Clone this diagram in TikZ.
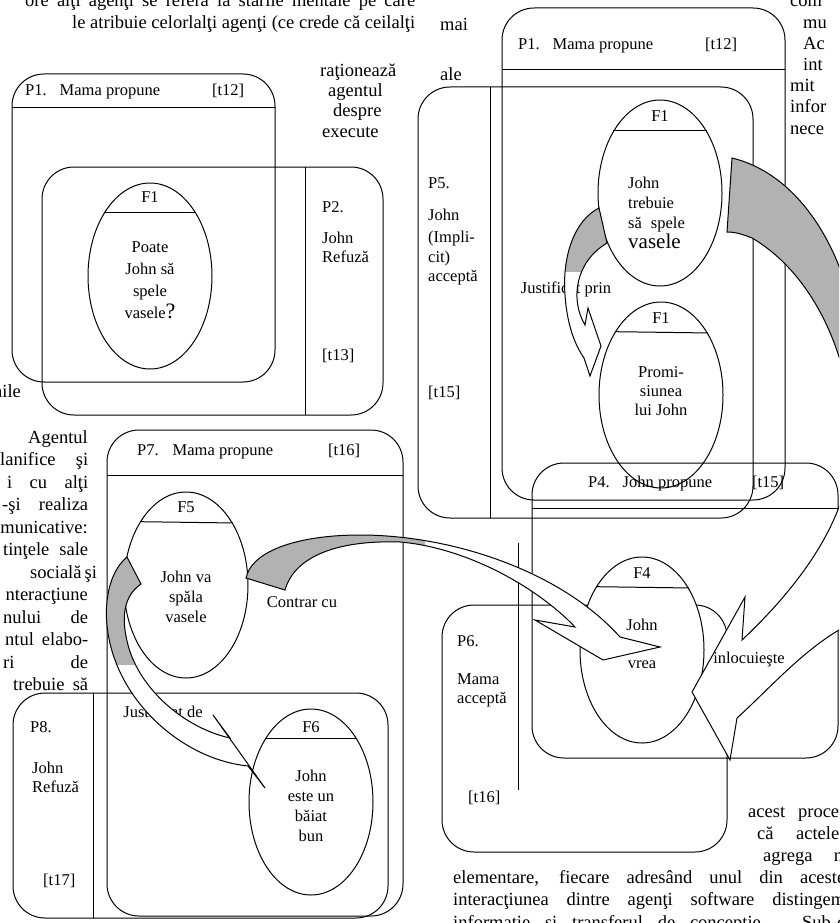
\documentclass[tikz,border=0pt]{standalone}
\usepackage{fontspec}
\setmainfont{Liberation Serif}
\usetikzlibrary{shapes.geometric}

\begin{document}
\begin{tikzpicture}[x=1pt,y=-1pt,
    box/.style={draw,line width=1pt,rounded corners=32pt},
    rule/.style={draw,line width=1pt},
    fact/.style={shape=ellipse,draw,line width=1pt,fill=white,minimum width=124pt,minimum height=186pt,inner sep=0pt},
    lab/.style={font=\fontsize{16.5}{20}\selectfont,inner sep=0pt},
    tag/.style={lab,anchor=base west},
    txt/.style={font=\fontsize{18.5}{22}\selectfont,inner sep=0pt,anchor=base west},
    blk/.style={draw,line width=1pt,fill=white},
    dots/.style={fill=black!30}]
      \useasboundingbox (0,0) rectangle (839,923);
      \clip (0,0) rectangle (839,923);

      % page text round the figures
      \node[txt] (t1) at (25,7) {\makebox[390pt][s]{ore alţi agenţi se referă la stările mentale pe care}};
      \node[txt] (t2) at (72,29) {\makebox[343pt][s]{le atribuie celorlalţi agenţi (ce crede că ceilalţi}};
      \node[txt] (t3) at (440,31) {mai};
      \node[txt] (t4) at (440,81) {ale};
      \node[txt] (t5) at (320,77) {raţionează};
      \node[txt] (t6) at (328,97) {agentul};
      \node[txt] (t7) at (333,117) {despre};
      \node[txt] (t8) at (322,137) {execute};
      \node[txt] (t9) at (790,7) {com};
      \node[txt] (t10) at (803,29) {mu};
      \node[txt] (t11) at (803,50) {Ac};
      \node[txt] (t12) at (803,71) {int};
      \node[txt] (t13) at (790,92) {mit};
      \node[txt] (t14) at (790,113) {infor};
      \node[txt] (t15) at (790,135) {nece};
      \node[txt] (t20) at (-7,397) {nile};
      \node[txt,anchor=base east] (t21) at (88,443) {Agentul};
      \node[txt] (t22) at (0,465) {\makebox[88pt][s]{lanifice şi}};
      \node[txt] (t23) at (7,488) {\makebox[81pt][s]{i cu alţi}};
      \node[txt] (t24) at (2,510) {\makebox[86pt][s]{-şi realiza}};
      \node[txt,anchor=base east] (t25) at (88,533) {municative:};
      \node[txt] (t26) at (3,555) {\makebox[85pt][s]{tinţele sale}};
      \node[txt] (t27) at (30,578) {\makebox[58pt][s]{socială şi}};
      \node[txt,anchor=base east] (t28) at (88,600) {nteracţiune};
      \node[txt] (t29) at (3,623) {\makebox[85pt][s]{nului de}};
      \node[txt] (t30) at (5,645) {\makebox[83pt][s]{ntul elabo-}};
      \node[txt] (t31) at (3,668) {\makebox[85pt][s]{ri de}};
      \node[txt] (t32) at (13,690) {\makebox[75pt][s]{trebuie să}};
      \node[txt] (t40) at (748,817) {\makebox[91pt][s]{acest proce}};
      \node[txt] (t41) at (757,839) {\makebox[82pt][s]{că actele}};
      \node[txt] (t42) at (763,861) {\makebox[80pt][s]{agrega n}};
      \node[txt] (t43) at (453,883) {\makebox[392pt][s]{elementare, fiecare adresând unul din aceste}};
      \node[txt] (t44) at (453,905) {\makebox[392pt][s]{interacţiunea dintre agenţi software distingem}};
      \node[txt] (t45) at (453,928) {\makebox[392pt][s]{informaţie şi transferul de concepţie. Sub-c}};

      % left figure, top
      \draw[box] (12,74) rectangle (275,382);
      \draw[rule] (12,108) -- (275,108);
      \draw[box] (42,167) rectangle (383,415);
      \draw[rule] (305,167) -- (305,415);
      % left figure, bottom
      \draw[box] (107,430) rectangle (403,916);
      \draw[rule] (107,475) -- (403,475);
      \draw[box] (13,693) rectangle (388,918);
      \draw[rule] (93,693) -- (93,918);
      % right figure
      \draw[box] (502,8) rectangle (785,500);
      \draw[rule] (502,70) -- (785,70);
      \draw[box] (418,87) rectangle (753,518);
      \draw[rule] (490,87) -- (490,518);
      \draw[box] (442,605) rectangle (727,852);
      \draw[rule] (518,543) -- (518,790);

      \node[fact] (f1l) at (150,276) {};
      \node[fact] (f5) at (186,585) {};
      \node[fact] (f6) at (311,802) {};
      \node[fact] (f1a) at (660,193) {};
      \node[fact] (f1b) at (661,395) {};
      \node[fact] (f4) at (642,650) {};
      \draw[rule] (f1l.126) -- (f1l.54);
      \draw[rule] (f5.126.5) -- (f5.53.5);
      \draw[rule] (f6.126) -- (f6.54);
      \draw[rule] (f1a.127) -- (f1a.53);
      \draw[rule] (f1b.126.5) -- (f1b.53.5);
      \draw[rule] (f4.126.5) -- (f4.53.5);

      \draw[box] (532,463) rectangle (838,758);
      \draw[rule] (532,508) -- (838,508);

      % box labels
      \node[tag] (p1l) at (25,96) {P1.\hspace{13pt}Mama propune\hspace{52pt}[t12]};
      \node[tag] (p2a) at (322,212) {P2.};
      \node[tag] (p2b) at (322,243) {John};
      \node[tag] (p2c) at (322,262) {Refuză};
      \node[tag] (p2d) at (322,360) {[t13]};
      \node[tag] (p7) at (137,455) {P7.\hspace{14pt}Mama propune\hspace{55pt}[t16]};
      \node[tag] (p8a) at (30,732) {P8.};
      \node[tag] (p8b) at (32,773) {John};
      \node[tag] (p8c) at (32,792) {Refuză};
      \node[tag] (p8d) at (43,885) {[t17]};
      \node[tag] (p1r) at (518,50) {P1.\hspace{13pt}Mama propune\hspace{52pt}[t12]};
      \node[tag] (p5a) at (428,188) {P5.};
      \node[tag] (p5b) at (428,220) {John};
      \node[tag] (p5c) at (428,242) {(Impli-};
      \node[tag] (p5d) at (428,262) {cit)};
      \node[tag] (p5e) at (428,281) {acceptă};
      \node[tag] (p5f) at (428,397) {[t15]};
      \node[tag] (p4) at (588,487) {P4.\hspace{13pt}John propune\hspace{40pt}[t15]};
      \node[tag] (p6a) at (457,646) {P6.};
      \node[tag] (p6b) at (457,684) {Mama};
      \node[tag] (p6c) at (457,703) {acceptă};
      \node[tag] (p6d) at (468,802) {[t16]};

      % ellipse texts
      \node[lab] (f1lh) at (150,197) {F1};
      \node[lab,align=center,font=\fontsize{16.5}{22}\selectfont] (f1lt) at (150,280) {Poate\\John să\\spele\\vasele{\fontsize{22}{22}\selectfont ?}};
      \node[lab] (f5h) at (186,507) {F5};
      \node[lab,align=center] (f5t) at (186,597) {John va\\spăla\\vasele};
      \node[lab] (f6h) at (311,727) {F6};
      \node[lab,align=center] (f6t) at (311,806) {John\\este un\\băiat\\bun};
      \node[lab] (f1ah) at (660,116) {F1};
      \node[lab,align=left,anchor=north west] (f1at) at (628,177) {John\\trebuie\\să\hspace{9pt}spele\\{\fontsize{21}{20}\selectfont vasele}};
      \node[lab] (f1bh) at (661,318) {F1};
      \node[lab,align=center,font=\fontsize{16.5}{19}\selectfont] (f1bt) at (661,391) {Promi-\\siunea\\lui John};
      \node[lab] (f4h) at (642,573) {F4};
      \node[lab] (f4a) at (642,625) {John};
      \node[lab] (f4b) at (642,665) {vrea};

      \node[lab] (jp) at (566,289) {Justificat prin};
      \node[lab] (jd) at (163,712) {Justificat de};

      % block arrows
      \path[blk,path picture={\fill[dots] (0,0) rectangle (839,272);}]
        (599,208) .. controls (575,220) and (562,255) .. (565,295)
        .. controls (567,325) and (575,345) .. (584,358)
        -- (590,376) -- (601,346) -- (588,308) -- (585,325)
        .. controls (570,300) and (575,262) .. (607,243) -- cycle;
      \path[blk,path picture={\fill[dots] (0,0) rectangle (425,923);}]
        (246,578) .. controls (252,550) and (300,535) .. (360,535)
        .. controls (450,535) and (560,570) .. (620,637)
        -- (660,647) -- (603,660) -- (535,620) -- (575,627)
        .. controls (540,590) and (470,548) .. (400,542)
        .. controls (340,540) and (295,555) .. (285,590) -- cycle;
      \path[blk,path picture={\fill[dots] (0,0) rectangle (839,665);}]
        (127,557) .. controls (105,575) and (100,620) .. (115,660)
        .. controls (135,715) and (190,760) .. (248,766)
        -- (265,788) -- (213,715) -- (230,738)
        .. controls (185,728) and (140,690) .. (128,645)
        .. controls (120,615) and (125,595) .. (141,584) -- cycle;
      \path[blk,path picture={\fill[dots] (0,0) rectangle (900,450);}]
        (732,158) .. controls (790,172) and (832,230) .. (850,300)
        .. controls (930,380) and (960,560) .. (839,630)
        .. controls (800,653) and (765,693) .. (737,718)
        -- (730,760) -- (692,692) -- (745,597) -- (742,640)
        .. controls (795,590) and (852,520) .. (852,440)
        .. controls (852,360) and (815,275) .. (752,238)
        .. controls (742,234) and (735,232) .. (727,232) -- cycle;

      \node[lab] (cc) at (302,602) {Contrar cu};
      \node[lab] (inl) at (749,660) {inlocuieşte};
    \end{tikzpicture}
\end{document}
